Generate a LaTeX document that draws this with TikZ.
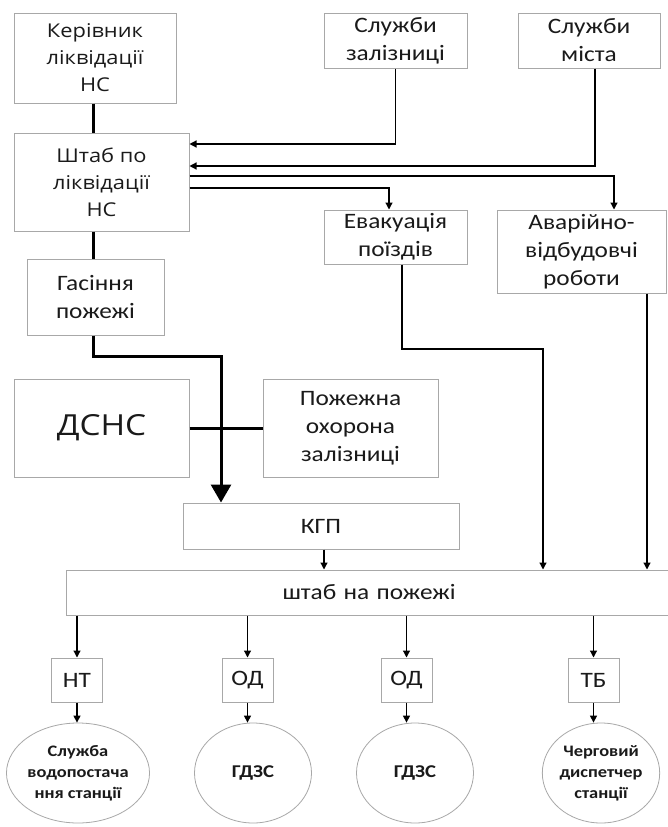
\documentclass[tikz,border=0pt]{standalone}
\usepackage{fontspec}
\setmainfont[FakeStretch=1.15]{Carlito}
\newfontfamily\osf[FakeStretch=1.15]{Open Sans}
\usetikzlibrary{arrows.meta,shapes.geometric}
\definecolor{boxgray}{HTML}{A8A8A8}
\definecolor{txt}{HTML}{1A1A1A}
\begin{document}
\begin{tikzpicture}[x=1pt,y=-1pt,
  box/.style={draw=boxgray, line width=1pt, fill=white, align=center, inner sep=0pt, text=txt,
    font=\fontsize{22}{28}\selectfont},
  osbox/.style={box, font=\osf\fontsize{19}{27}\selectfont},
  smallbox/.style={box, minimum width=51pt, minimum height=44pt},
  oval/.style={draw=boxgray, line width=0.8pt, ellipse, align=center, inner sep=0pt, text=txt,
    minimum width=117pt, minimum height=100pt, font=\bfseries\fontsize{16}{21}\selectfont},
  thinarr/.style={line width=1.2pt, -{Triangle[length=7pt,width=7pt]}},
  thickln/.style={line width=3pt},
  bigarr/.style={line width=3pt, -{Triangle[length=18pt,width=20pt]}}
]
\useasboundingbox[fill=white] (0,0) rectangle (667,827);

% nodes
\node[osbox, minimum width=162pt, minimum height=90pt] (ker) at (95,58) {Керівник\\ліквідації\\НС};
\node[box, minimum width=143pt, minimum height=55pt] (szal) at (395.5,40.5) {Служби\\залізниці};
\node[box, minimum width=142pt, minimum height=55pt] (smis) at (589,40.5) {Служби\\міста};
\node[osbox, minimum width=175pt, minimum height=98pt] (shtab) at (101.5,182) {Штаб по\\ліквідації\\НС};
\node[box, minimum width=143pt, minimum height=54pt] (evak) at (395.5,237) {Евакуація\\поїздів};
\node[box, minimum width=169pt, minimum height=83pt] (avar) at (581.5,251.5) {Аварійно-\\відбудовчі\\роботи};
\node[box, minimum width=137pt, minimum height=76pt] (gas) at (95.5,297) {Гасіння\\пожежі};
\node[box, minimum width=175pt, minimum height=98pt, font=\osf\fontsize{29}{34}\selectfont] (dsns) at (101.5,428) {ДСНС};
\node[box, minimum width=175pt, minimum height=98pt] (pozh) at (350.5,428) {Пожежна\\охорона\\залізниці};
\node[box, minimum width=276pt, minimum height=46pt] (kgp) at (321,526) {КГП};
\node[box, minimum width=606pt, minimum height=45pt, text width=601pt] (shp) at (369,592.5) {\hspace*{0pt}\makebox[601pt][c]{штаб на пожежі}};
\node[smallbox] (nt) at (77,680) {НТ};
\node[smallbox] (od1) at (247.5,680) {ОД};
\node[smallbox] (od2) at (406.5,680) {ОД};
\node[smallbox] (tb) at (593.5,680) {ТБ};
\node[oval, minimum width=130pt] (c1) at (78,773) {Служба\\водопостача\\ння станції};
\node[oval, font=\bfseries\fontsize{18}{21}\selectfont] (c2) at (253,773) {ГДЗС};
\node[oval, font=\bfseries\fontsize{18}{21}\selectfont] (c3) at (415,773) {ГДЗС};
\node[oval] (c4) at (601,773) {Черговий\\диспетчер\\станції};

% helper coordinates
\coordinate (spine) at (93,0);
\coordinate (ya) at (0,144);
\coordinate (yb) at (0,166);
\coordinate (yc) at (0,176);
\coordinate (yd) at (0,188);
\coordinate (xsm) at (595,0);
\coordinate (xav) at (614,0);
\coordinate (xev) at (389,0);
\coordinate (kbend) at (221,356);
\coordinate (ebend) at (402,349);
\coordinate (ecol) at (543,0);
\coordinate (acol) at (647,0);
\coordinate (kcol) at (324,0);

% thick connectors
\draw[thickln] (ker.south -| spine) -- (shtab.north -| spine);
\draw[thickln] (shtab.south -| spine) -- (gas.north -| spine);
\draw[thickln] (dsns.east) -- (pozh.west);
\draw[bigarr] (gas.south -| spine) |- (kbend) -- (kgp.north -| kbend);

% thin connectors
\draw[thinarr] (szal.south) |- (shtab.east |- ya);
\draw[thinarr] (smis.south -| xsm) |- (shtab.east |- yb);
\draw[thinarr] (shtab.east |- yc) -| (avar.north -| xav);
\draw[thinarr] (shtab.east |- yd) -| (evak.north -| xev);
\draw[thinarr] (evak.south -| ebend) -- (ebend) -| (shp.north -| ecol);
\draw[thinarr] (avar.south -| acol) -- (shp.north -| acol);
\draw[thinarr] (kgp.south -| kcol) -- (shp.north -| kcol);

\foreach \b/\c in {nt/c1, od1/c2, od2/c3, tb/c4}{
  \draw[thinarr] (shp.south -| \b) -- (\b.north);
  \draw[thinarr] (\b.south) -- (\c.north -| \b);
}
\end{tikzpicture}
\end{document}
